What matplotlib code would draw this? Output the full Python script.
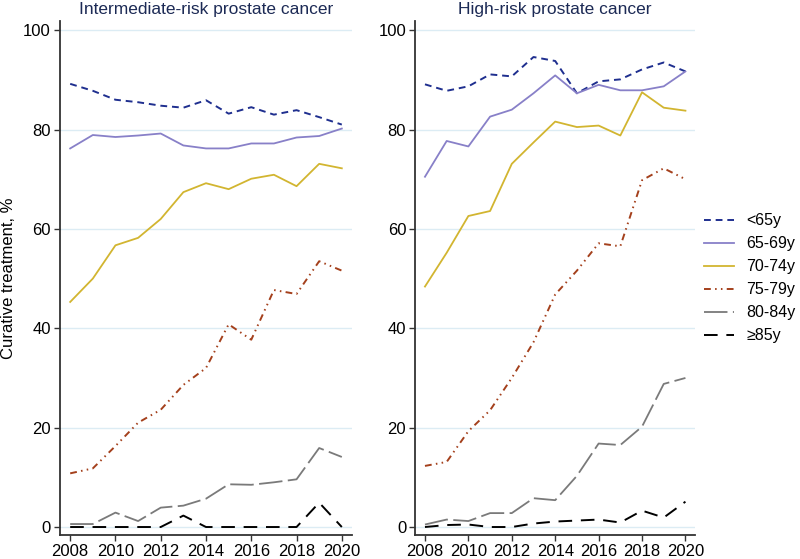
import matplotlib
matplotlib.use("Agg")
import matplotlib.pyplot as plt

plt.rcParams['font.family'] = ['Liberation Sans', 'DejaVu Sans']

years = list(range(2008, 2021))
groups = ["<65y", "65-69y", "70-74y", "75-79y", "80-84y", "≥85y"]

inter_lt65 = [89.2, 87.8, 86.0, 85.5, 84.8, 84.4, 85.9, 83.2, 84.5, 83.0, 83.9, 82.5, 81.0]
inter_65_69 = [76.2, 78.9, 78.5, 78.8, 79.2, 76.8, 76.2, 76.2, 77.2, 77.2, 78.4, 78.7, 80.2]
inter_70_74 = [45.3, 50.0, 56.7, 58.2, 62.0, 67.4, 69.2, 68.0, 70.1, 70.9, 68.6, 73.1, 72.2]
inter_75_79 = [10.8, 11.8, 16.3, 21.0, 23.6, 28.6, 32.0, 40.8, 37.7, 47.7, 46.9, 53.5, 51.6]
inter_80_84 = [0.6, 0.6, 2.9, 1.2, 3.9, 4.3, 5.7, 8.6, 8.5, 9.0, 9.6, 15.9, 14.1]
inter_ge85 = [0, 0, 0, 0, 0, 2.3, 0, 0, 0, 0, 0, 4.9, 0]

high_lt65 = [89.1, 87.8, 88.7, 91.1, 90.7, 94.6, 93.8, 87.3, 89.7, 90.1, 92.1, 93.5, 91.7]
high_65_69 = [70.5, 77.7, 76.6, 82.6, 84.0, 87.3, 90.9, 87.3, 89.0, 87.9, 87.9, 88.7, 91.7]
high_70_74 = [48.4, 55.2, 62.6, 63.6, 73.1, 77.4, 81.6, 80.5, 80.8, 78.8, 87.5, 84.4, 83.8]
high_75_79 = [12.3, 13.1, 19.3, 23.5, 30.0, 37.2, 46.8, 51.6, 57.1, 56.5, 69.8, 72.2, 70.0]
high_80_84 = [0.5, 1.5, 1.2, 2.8, 2.8, 5.8, 5.4, 10.3, 16.8, 16.5, 20.2, 28.8, 30.0]
high_ge85 = [0, 0.4, 0.5, 0, 0, 0.7, 1.1, 1.3, 1.5, 0.9, 3.3, 1.9, 5.1]

titles = ["Intermediate-risk prostate cancer", "High-risk prostate cancer"]

styles = [
    dict(color="#1f2f8f", linestyle=(0, (3.5, 2.5)), lw=1.4),
    dict(color="#8880c8", linestyle="-", lw=1.3),
    dict(color="#d2b530", linestyle="-", lw=1.3),
    dict(color="#a4401c", linestyle=(0, (3.5, 2.2, 0.8, 2.2, 0.8, 2.2)), lw=1.4),
    dict(color="#7a7a7a", linestyle=(0, (13, 3)), lw=1.3),
    dict(color="#000000", linestyle=(0, (7, 4.5)), lw=1.4),
]

fig = plt.figure(figsize=(8, 5.59), dpi=100)
axes = [fig.add_axes([0.075, 0.0430, 0.365, 0.9190]),
        fig.add_axes([0.519, 0.0430, 0.350, 0.9190])]

data = [
    [inter_lt65, inter_65_69, inter_70_74, inter_75_79, inter_80_84, inter_ge85],
    [high_lt65, high_65_69, high_70_74, high_75_79, high_80_84, high_ge85],
]

handles = []
for ax, series, title in zip(axes, data, titles):
    for vals, st, lab in zip(series, styles, groups):
        h, = ax.plot(years, vals, label=lab, **st)
        if ax is axes[0]:
            handles.append(h)
    ax.set_ylim(-1.6, 101.8)
    ax.set_xlim(2007.55, 2020.45)
    ax.set_yticks([0, 20, 40, 60, 80, 100])
    ax.set_xticks([2008, 2010, 2012, 2014, 2016, 2018, 2020])
    ax.grid(axis="y", color="#dcecf4", lw=1.0)
    ax.set_axisbelow(True)
    for s in ["top", "right"]:
        ax.spines[s].set_visible(False)
    for s in ["left", "bottom"]:
        ax.spines[s].set_color("#333333")
        ax.spines[s].set_linewidth(1.3)
    ax.tick_params(axis="both", direction="out", length=4.5, width=1.0,
                   labelsize=12, color="#333333", pad=2)
    ax.set_title(title, fontsize=12.5, color="#1c2a55", pad=5)

axes[0].set_ylabel("Curative treatment, %", fontsize=12)
axes[0].yaxis.set_label_coords(-0.150, 0.5)

fig.legend(handles=handles, labels=groups, loc="center left",
           bbox_to_anchor=(0.862, 0.502), frameon=False, fontsize=11.5,
           handlelength=1.85, labelspacing=0.5, handletextpad=0.8)

fig.savefig("out.png", dpi=100)
